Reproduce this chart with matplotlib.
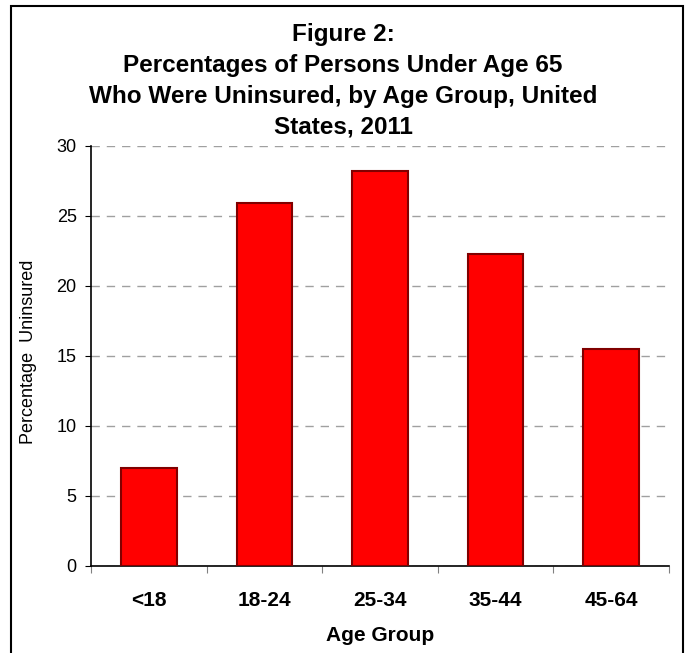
import numpy as np
import matplotlib.pyplot as plt
from matplotlib.patches import Rectangle

categorias = ['<18', '18-24', '25-34', '35-44', '45-64']
valores = [7.0, 25.9, 28.2, 22.3, 15.5]
yticks = [0, 5, 10, 15, 20, 25, 30]

plt.rcParams['font.family'] = ['Liberation Sans', 'DejaVu Sans']

fig = plt.figure(figsize=(6.86, 6.53), dpi=100)
ax = fig.add_axes([91/686, 1 - 566/653, 578/686, 420/653])

x = np.arange(len(categorias))
ax.bar(x, valores, width=0.48, color='#ff0000', edgecolor='#800000', linewidth=1.5, zorder=3)

ax.set_xlim(-0.5, len(categorias) - 0.5)
ax.set_ylim(0, 30)
ax.set_yticks(yticks)
ax.set_yticklabels([str(v) for v in yticks], fontsize=13)
ax.set_xticks(np.arange(len(categorias) + 1) - 0.5)
ax.set_xticklabels([''] * (len(categorias) + 1))
ax.tick_params(axis='x', length=5, direction='out', color='#808080')
ax.tick_params(axis='y', length=4.5, direction='out', pad=5.8)
for i, c in enumerate(categorias):
    ax.text(i, -2.43, c, ha='center', va='center', fontsize=15, fontweight='bold')

ax.yaxis.grid(True, linestyle=(0, (6, 5)), color='#a0a0a0', linewidth=1, zorder=0)
ax.spines['top'].set_visible(False)
ax.spines['right'].set_visible(False)
ax.spines['left'].set_linewidth(1.2)
ax.spines['bottom'].set_linewidth(1.2)

fig.text(29/686, 1 - 352/653, 'Percentage  Uninsured', rotation=90,
         ha='center', va='center', fontsize=13)
ax.text(2, -4.93, 'Age Group', ha='center', va='center', fontsize=15, fontweight='bold')

fig.text(0.5, 1 - 81/653,
         'Figure 2:\nPercentages of Persons Under Age 65\nWho Were Uninsured, by Age Group, United\nStates, 2011',
         ha='center', va='center', fontsize=17.5, fontweight='bold', linespacing=1.43)

fig.patches.append(Rectangle((11/686, -0.05), 672/686, 1.05 - 5.5/653, transform=fig.transFigure,
                             fill=False, edgecolor='black', linewidth=1.5))

plt.savefig('out.png', dpi=100)
